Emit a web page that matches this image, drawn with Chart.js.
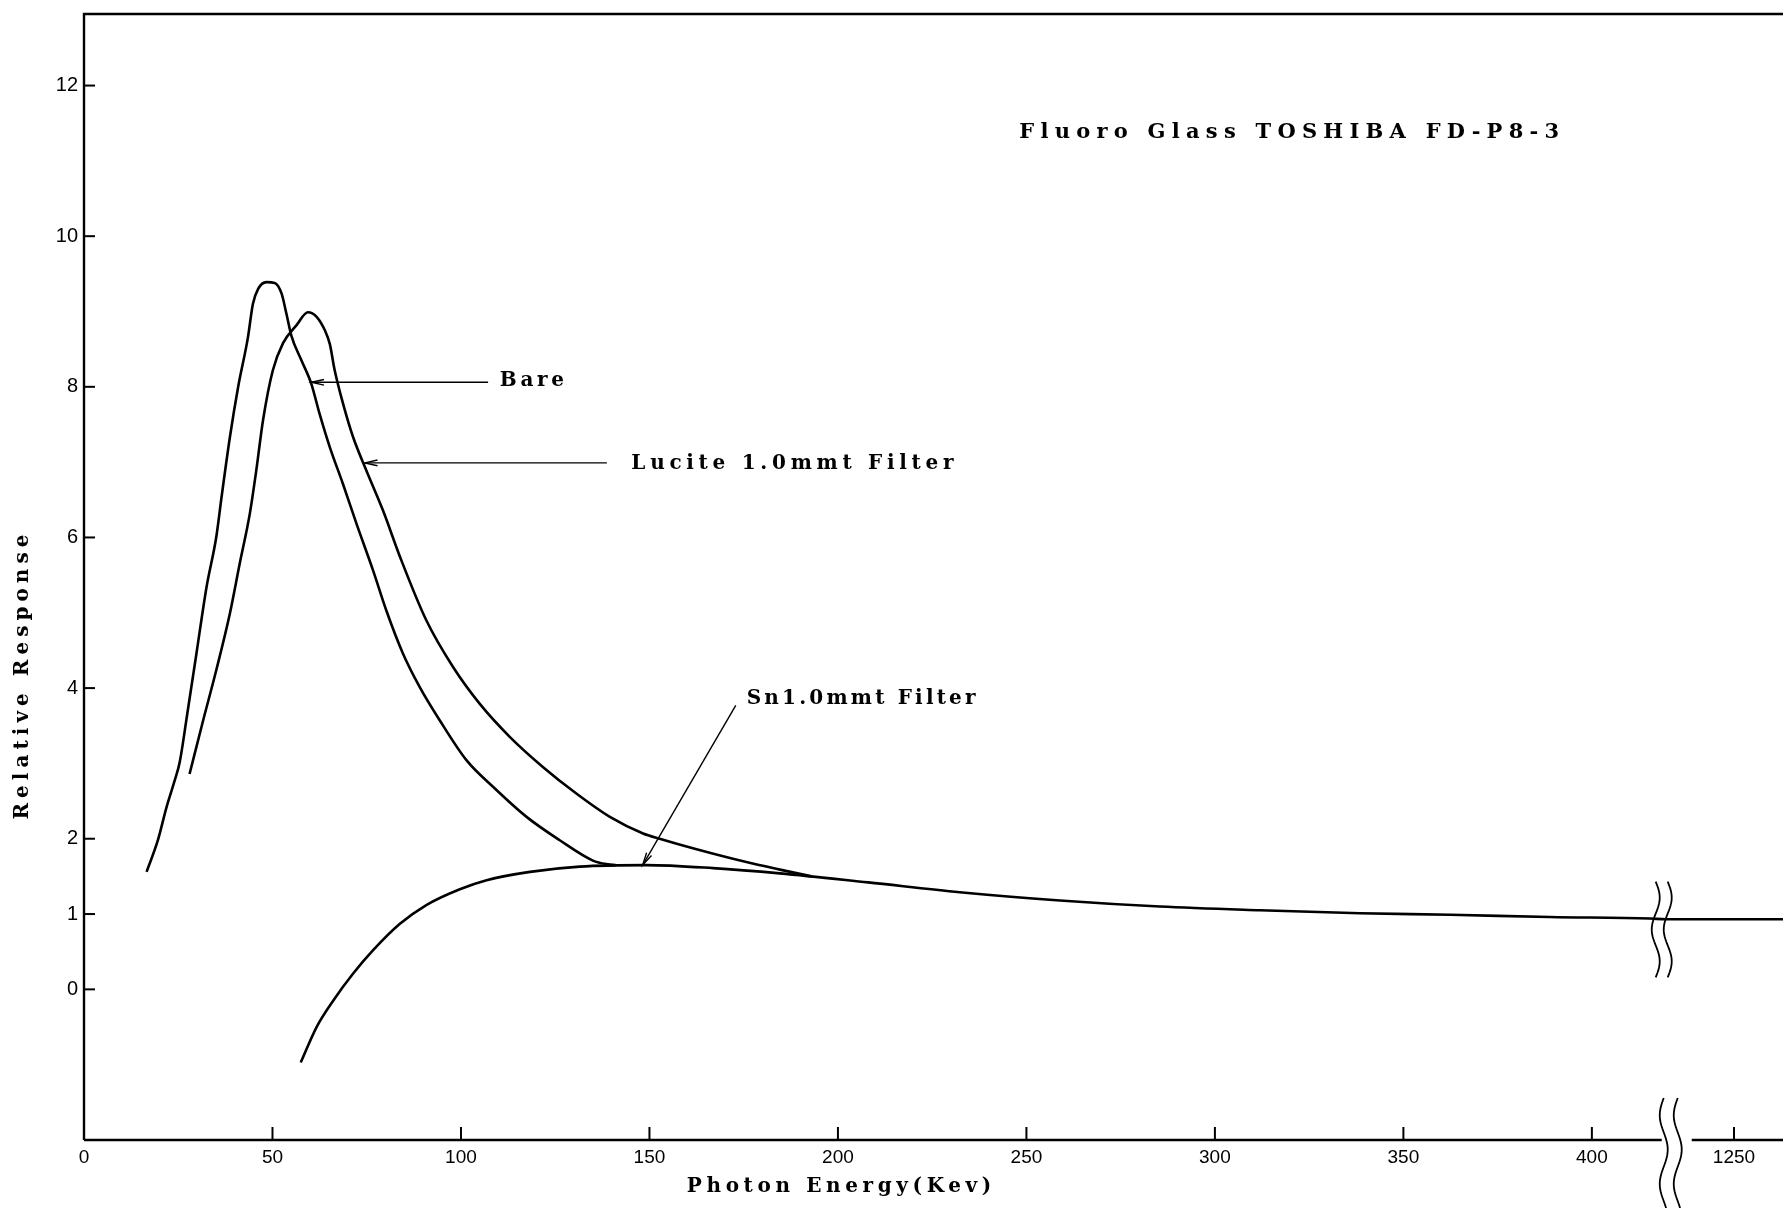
<!DOCTYPE html>
<html><head><meta charset="utf-8">
<script src="https://cdn.jsdelivr.net/npm/chart.js@4.4.0/dist/chart.umd.min.js"></script>
<style>html,body{margin:0;padding:0;background:#fff;overflow:hidden}#wrap{width:1783px;height:1208px;position:relative}</style>
</head><body><div id="wrap"><canvas id="c" width="1783" height="1208"></canvas></div>
<script>
// ---------------- data ----------------
const bareEnergy   = [16.6, 19.6, 21.9, 24.1, 25.4, 27.4, 29.8, 32.5, 35.1, 36.5, 38.7, 40.9, 43.5, 44.8, 46.2, 48.4, 50.6, 52.4, 53.7, 55.0, 57.7, 60.3, 62.5, 65.2, 68.7, 72.3, 76.7, 80.2, 84.6, 89.1, 94.4, 101.5, 108.5, 117.4, 126.2, 135.0, 139.0, 141.0];
const bareResponse = [1.56, 1.98, 2.42, 2.78, 3.02, 3.66, 4.45, 5.34, 6.01, 6.54, 7.33, 8.00, 8.66, 9.10, 9.30, 9.39, 9.38, 9.24, 8.97, 8.68, 8.35, 8.04, 7.64, 7.20, 6.71, 6.18, 5.56, 5.03, 4.46, 4.01, 3.57, 3.04, 2.69, 2.29, 1.98, 1.71, 1.66, 1.65];

const luciteEnergy   = [28.0, 31.6, 35.1, 38.7, 41.3, 44.0, 45.7, 47.5, 50.1, 52.8, 56.4, 59.4, 61.7, 63.9, 65.2, 66.5, 68.7, 71.4, 74.9, 79.3, 84.0, 90.8, 97.9, 105.0, 113.0, 121.8, 130.6, 139.5, 148.3, 152.7, 162.5, 175.7, 184.6, 193.0];
const luciteResponse = [2.86, 3.57, 4.24, 4.99, 5.65, 6.32, 6.89, 7.56, 8.22, 8.58, 8.82, 8.99, 8.93, 8.75, 8.57, 8.22, 7.78, 7.33, 6.89, 6.36, 5.72, 4.90, 4.28, 3.79, 3.35, 2.95, 2.60, 2.29, 2.07, 2.00, 1.86, 1.69, 1.59, 1.50];

const snEnergy   = [57.5, 61.7, 66.1, 71.4, 76.7, 83.8, 90.8, 99.7, 106.8, 118.3, 131.5, 149.2, 166.9, 184.6, 208.0, 232.3, 258.9, 285.4, 311.9, 338.5, 362.4, 388.9, 415.4, 1232, 1250, 1263];
const snResponse = [-0.97, -0.50, -0.15, 0.21, 0.52, 0.87, 1.12, 1.33, 1.45, 1.56, 1.63, 1.65, 1.61, 1.54, 1.42, 1.29, 1.18, 1.10, 1.05, 1.01, 0.99, 0.96, 0.94, 0.93, 0.93, 0.93];

const xTickLabels = [0, 50, 100, 150, 200, 250, 300, 350, 400, 1250];
const yTickValues = [0, 1, 2, 4, 6, 8, 10, 12];

const seriesLabels = ['Bare', 'Lucite 1.0mmt Filter', 'Sn1.0mmt Filter'];
const chartTitle = 'Fluoro Glass TOSHIBA FD-P8-3';
const xAxisTitle = 'Photon Energy(Kev)';
const yAxisTitle = 'Relative Response';

// ---------------- axis break (energies above the break are shifted) ----------------
const BREAK_FROM = 418;      // axis position where the break sits
const BREAK_REF = 1250;      // energy shown just after the break
const BREAK_REF_AT = 437.7;  // axis position of that energy
function axisPos(e) { return e <= BREAK_FROM ? e : BREAK_REF_AT + (e - BREAK_REF); }

function series(xs, ys) { return xs.map((e, i) => ({ x: axisPos(e), y: ys[i] })); }

// ---------------- annotation layout (data coordinates) ----------------
const notes = [
  { tip: [60.3, 8.06], tail: [107.2, 8.06], label: [110.3, 8.08], width: 68 },
  { tip: [74.5, 6.99], tail: [138.7, 6.99], label: [145.2, 6.98], width: 327 },
  { tip: [148.2, 1.65], tail: [172.9, 3.77], label: [175.8, 3.86], width: 232 }
];
const titlePos = { x: 248.1, y: 11.38, width: 546 };

const SERIF = '"DejaVu Serif", "Liberation Serif", serif';
const SANS = '"Liberation Sans", Arial, sans-serif';

function spacedText(ctx, text, x, y, width, font, align) {
  ctx.font = font;
  ctx.letterSpacing = '0px';
  const w = ctx.measureText(text).width;
  const sp = Math.max(0, (width - w) / text.length);
  ctx.letterSpacing = sp.toFixed(2) + 'px';
  ctx.textBaseline = 'middle';
  ctx.textAlign = 'left';
  let sx = x;
  if (align === 'center') sx = x - width / 2;
  ctx.fillText(text, sx, y);
  ctx.letterSpacing = '0px';
}

function wave(ctx, cx, y0, y1, amp, periods, phase) {
  ctx.beginPath();
  const n = 40;
  for (let i = 0; i <= n; i++) {
    const t = i / n;
    const yy = y0 + (y1 - y0) * t;
    const xx = cx + amp * Math.sin(phase + t * periods * Math.PI * 2);
    if (i === 0) ctx.moveTo(xx, yy); else ctx.lineTo(xx, yy);
  }
  ctx.stroke();
}

const decor = {
  id: 'decor',
  afterDatasetsDraw(chart) {
    const { ctx, chartArea: a, scales: { x, y } } = chart;
    const px = v => x.getPixelForValue(v), py = v => y.getPixelForValue(v);
    ctx.save();
    ctx.strokeStyle = '#000';
    ctx.fillStyle = '#000';
    ctx.lineCap = 'butt';

    // frame: left axis and top border
    ctx.lineWidth = 2.4;
    ctx.beginPath();
    ctx.moveTo(a.left, a.bottom); ctx.lineTo(a.left, a.top); ctx.lineTo(a.right, a.top);
    ctx.stroke();

    // bottom axis with a gap at the break
    const gapL = px(BREAK_FROM) + 2;
    const gapR = gapL + 30;
    ctx.beginPath();
    ctx.moveTo(a.left, a.bottom); ctx.lineTo(gapL, a.bottom);
    ctx.moveTo(gapR, a.bottom); ctx.lineTo(a.right, a.bottom);
    ctx.stroke();

    // inward ticks
    ctx.lineWidth = 2;
    y.ticks.forEach(t => {
      const yy = py(t.value);
      ctx.beginPath(); ctx.moveTo(a.left, yy); ctx.lineTo(a.left + 11, yy); ctx.stroke();
    });
    x.ticks.forEach(t => {
      const xx = px(t.value);
      if (xx < a.left + 2) return;
      ctx.beginPath(); ctx.moveTo(xx, a.bottom); ctx.lineTo(xx, a.bottom - 13); ctx.stroke();
    });

    // break marks on the curve
    ctx.lineWidth = 1.8;
    const bx = px(BREAK_FROM);
    wave(ctx, bx - 4, py(1.43), py(0.16), 4, 1.5, 0);
    wave(ctx, bx + 8, py(1.43), py(0.16), 4, 1.5, 0);
    // break marks on the axis
    wave(ctx, gapL + 2, a.bottom - 42, chart.height, 4, 1.6, Math.PI);
    wave(ctx, gapL + 16, a.bottom - 42, chart.height, 4, 1.6, Math.PI);

    // annotations
    const labelFont = 'bold 20px ' + SERIF;
    notes.forEach((n, i) => {
      const tx = px(n.tip[0]), ty = py(n.tip[1]);
      const ex = px(n.tail[0]), ey = py(n.tail[1]);
      ctx.lineWidth = 1.4;
      ctx.beginPath(); ctx.moveTo(ex, ey); ctx.lineTo(tx, ty); ctx.stroke();
      const ang = Math.atan2(ey - ty, ex - tx);
      const L = 13, spread = 0.22;
      ctx.beginPath();
      ctx.moveTo(tx + L * Math.cos(ang + spread), ty + L * Math.sin(ang + spread));
      ctx.lineTo(tx, ty);
      ctx.lineTo(tx + L * Math.cos(ang - spread), ty + L * Math.sin(ang - spread));
      ctx.stroke();
      spacedText(ctx, seriesLabels[i], px(n.label[0]), py(n.label[1]), n.width, labelFont, 'left');
    });

    // chart title inside the plot
    spacedText(ctx, chartTitle, px(titlePos.x), py(titlePos.y), titlePos.width, 'bold 21px ' + SERIF, 'left');

    // axis titles
    spacedText(ctx, xAxisTitle, px(200.9), a.bottom + 47, 309, 'bold 20px ' + SERIF, 'center');
    ctx.save();
    ctx.translate(a.left - 61, py(4.18));
    ctx.rotate(-Math.PI / 2);
    spacedText(ctx, yAxisTitle, 0, 0, 290, 'bold 20px ' + SERIF, 'center');
    ctx.restore();

    ctx.restore();
  }
};

const lineStyle = { borderColor: '#000', borderWidth: 2.6, pointRadius: 0, showLine: true, fill: false, cubicInterpolationMode: 'monotone' };

new Chart(document.getElementById('c'), {
  type: 'scatter',
  data: {
    datasets: [
      Object.assign({ label: seriesLabels[0], data: series(bareEnergy, bareResponse) }, lineStyle),
      Object.assign({ label: seriesLabels[1], data: series(luciteEnergy, luciteResponse) }, lineStyle),
      Object.assign({ label: seriesLabels[2], data: series(snEnergy, snResponse) }, lineStyle)
    ]
  },
  options: {
    responsive: false,
    devicePixelRatio: 1,
    animation: false,
    layout: { padding: { top: 14, left: 0, right: 0, bottom: 0 } },
    plugins: { legend: { display: false }, tooltip: { enabled: false }, title: { display: false } },
    scales: {
      x: {
        type: 'linear', min: 0, max: 450.7,
        grid: { display: false, drawTicks: false }, border: { display: false },
        afterBuildTicks: s => { s.ticks = xTickLabels.map(v => ({ value: axisPos(v) })); },
        afterFit: s => { s.height = 68; s.paddingLeft = 0; s.paddingRight = 0; },
        ticks: {
          autoSkip: false, maxRotation: 0, padding: 6, color: '#000',
          font: { family: SANS, size: 19 },
          callback: (v, i) => String(xTickLabels[i])
        }
      },
      y: {
        type: 'linear', min: -2, max: 12.95,
        grid: { display: false, drawTicks: false }, border: { display: false },
        afterBuildTicks: s => { s.ticks = yTickValues.map(v => ({ value: v })); },
        afterFit: s => { s.width = 84; s.paddingTop = 0; s.paddingBottom = 0; },
        ticks: {
          autoSkip: false, padding: 6, color: '#000',
          font: { family: SANS, size: 20 },
          callback: v => String(v)
        }
      }
    }
  },
  plugins: [decor]
});
</script>
</body></html>
